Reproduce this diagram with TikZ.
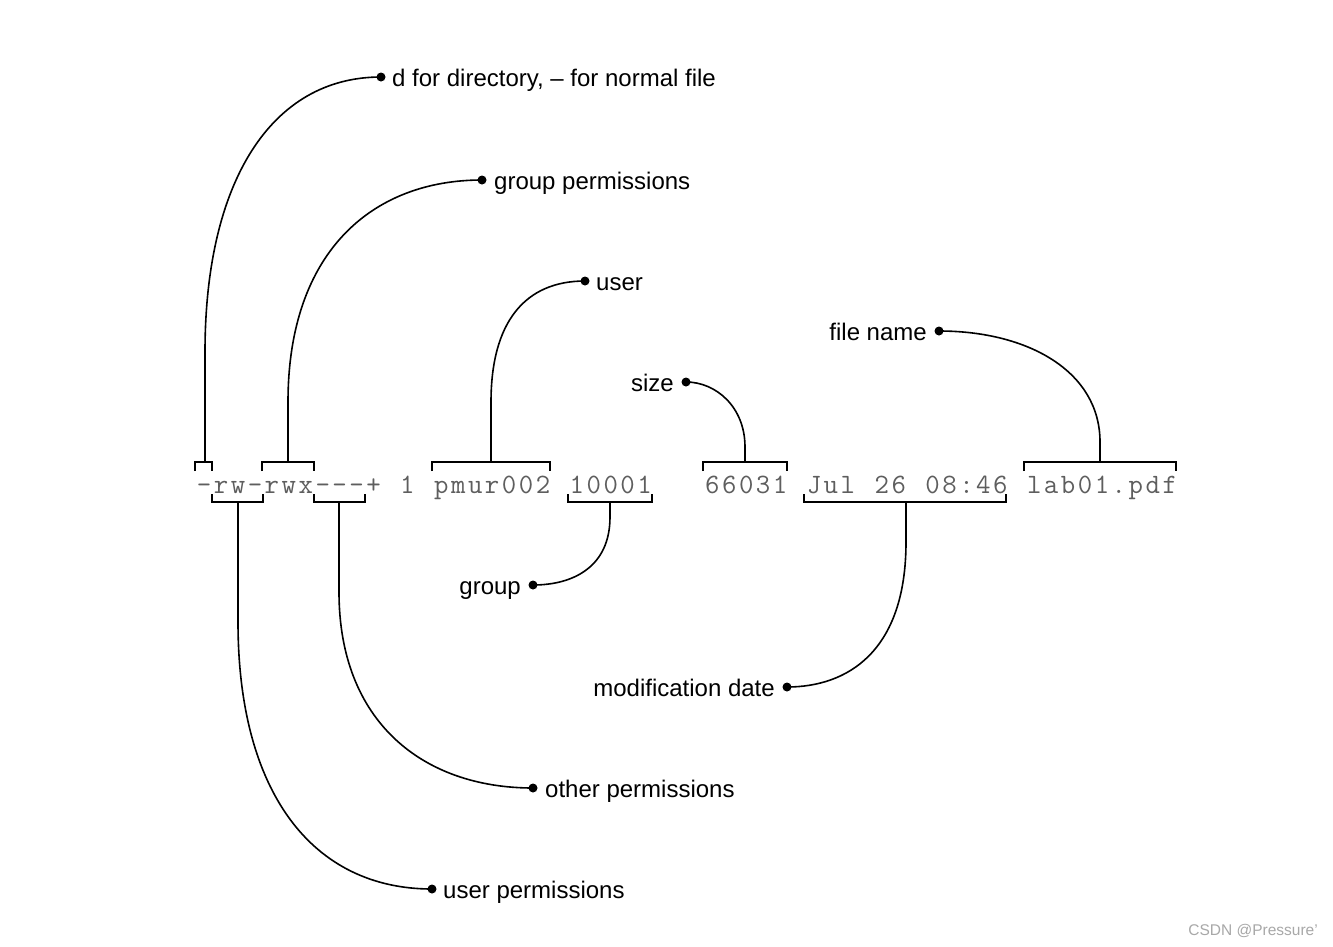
\documentclass[tikz,border=0pt]{standalone}
\usepackage{fontspec}
\setmainfont{Liberation Sans}
\definecolor{monogray}{HTML}{5E5E5E}
\definecolor{wmgray}{HTML}{A8A8A8}
\def\spc#1{\ifx#1\relax\else\makebox[16.94pt][c]{#1}\expandafter\spc\fi}
\tikzset{
  lbl/.style={font=\fontsize{24}{28}\selectfont, inner sep=0pt},
  dotnode/.style={circle, fill=black, inner sep=0pt, minimum size=9pt},
  brk/.style={line width=1.9pt},
  conn/.style={line width=1.6pt},
}
\begin{document}
\begin{tikzpicture}[x=1pt,y=-1pt]
\useasboundingbox (0,0) rectangle (1333,946);
\fill[white] (0,0) rectangle (1333,946);

% the listing line
\node[anchor=base west, inner sep=0pt, text=monogray,
      font=\ttfamily\fontsize{28}{32}\selectfont] (line) at (195.5,493)
  {\spc -rw-rwx---+~1~pmur002~10001~~~66031~Jul~26~08:46~lab01.pdf\relax};

% top brackets
\draw[brk] (195,471) -- (195,462) -- (212,462) -- (212,471);
\draw[brk] (262,471) -- (262,462) -- (314,462) -- (314,471);
\draw[brk] (432,471) -- (432,462) -- (550,462) -- (550,471);
\draw[brk] (703,471) -- (703,462) -- (787,462) -- (787,471);
\draw[brk] (1024,471) -- (1024,462) -- (1176,462) -- (1176,471);
% bottom brackets
\draw[brk] (212,494) -- (212,502) -- (263,502) -- (263,494);
\draw[brk] (314,494) -- (314,502) -- (365,502) -- (365,494);
\draw[brk] (568,494) -- (568,502) -- (652,502) -- (652,494);
\draw[brk] (804,494) -- (804,502) -- (1006,502) -- (1006,494);

% stems
\coordinate (sD) at (205,462);
\coordinate (sGP) at (288,462);
\coordinate (sU) at (491,462);
\coordinate (sS) at (745,462);
\coordinate (sF) at (1100,462);
\coordinate (sUP) at (238,502);
\coordinate (sOP) at (339,502);
\coordinate (sGr) at (610,502);
\coordinate (sM) at (906,502);

% dots
\node[dotnode] (dD) at (381,77) {};
\node[dotnode] (dGP) at (482,180) {};
\node[dotnode] (dU) at (585,281) {};
\node[dotnode] (dS) at (686,382) {};
\node[dotnode] (dF) at (939,331) {};
\node[dotnode] (dGr) at (533,585) {};
\node[dotnode] (dM) at (787,687) {};
\node[dotnode] (dOP) at (533,788) {};
\node[dotnode] (dUP) at (432,889) {};

% labels
\node[lbl, anchor=base west] (tD) at (392,86) {d for directory, – for normal file};
\node[lbl, anchor=base west] (tGP) at (494,189) {group permissions};
\node[lbl, anchor=base west] (tU) at (596,290) {user};
\node[lbl, anchor=base east] (tS) at (674,391) {size};
\node[lbl, anchor=base east] (tF) at (927,340) {file name};
\node[lbl, anchor=base east] (tGr) at (521,594) {group};
\node[lbl, anchor=base east] (tM) at (775,696) {modification date};
\node[lbl, anchor=base west] (tOP) at (545,797) {other permissions};
\node[lbl, anchor=base west] (tUP) at (443,898) {user permissions};

% connectors
\draw[conn] (sD) -- ++(0,-110) .. controls +(0,-170) and +(-110,0) .. (dD.center);
\draw[conn] (sGP) -- ++(0,-60) .. controls +(0,-150) and +(-110,0) .. (dGP.center);
\draw[conn] (sU) -- ++(0,-60) .. controls +(0,-80) and +(-60,0) .. (dU.center);
\draw[conn] (sS) -- ++(0,-15) .. controls +(0,-40) and +(30,0) .. (dS.center);
\draw[conn] (sF) -- ++(0,-20) .. controls +(0,-70) and +(90,0) .. (dF.center);
\draw[conn] (sUP) -- ++(0,120) .. controls +(0,170) and +(-120,0) .. (dUP.center);
\draw[conn] (sOP) -- ++(0,90) .. controls +(0,130) and +(-110,0) .. (dOP.center);
\draw[conn] (sGr) -- ++(0,15) .. controls +(0,50) and +(40,0) .. (dGr.center);
\draw[conn] (sM) -- ++(0,40) .. controls +(0,110) and +(60,0) .. (dM.center);

% watermark
\node[anchor=base east, inner sep=0pt, text=wmgray, font=\fontsize{15.5}{18}\selectfont] (wm) at (1318,935) {CSDN @Pressure'};
\end{tikzpicture}
\end{document}
